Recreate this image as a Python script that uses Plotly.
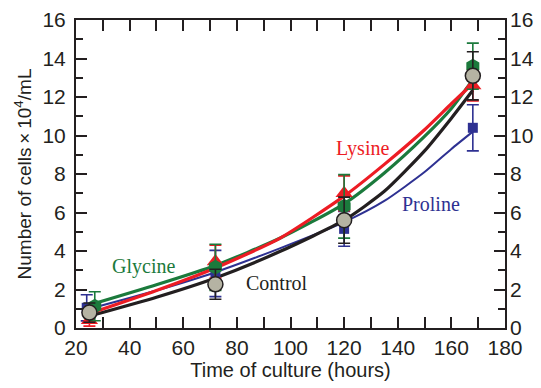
import plotly.graph_objects as go

# ---- measured data (mean, error) ----
t_control = [25, 72, 120, 168]
y_control = [0.8, 2.27, 5.6, 13.1]
e_control = [0.5, 0.78, 1.2, 1.25]

t_glycine = [27, 72, 120, 168]
y_glycine = [1.13, 3.15, 6.32, 13.6]
e_glycine = [0.75, 1.2, 1.65, 1.2]

t_lysine = [25, 72, 120, 168]
y_lysine = [0.4, 3.45, 7.0, 12.6]
e_lysine = [0.3, 0.85, 0.9, 0.8]

t_proline = [24, 72, 120, 168]
y_proline = [1.05, 2.83, 5.15, 10.4]
e_proline = [0.68, 1.2, 0.9, 1.2]

# ---- fitted curves ----
t_fit = [25, 50, 72, 96, 120, 135, 150, 160, 168]
fit_glycine = [1.2, 2.25, 3.25, 4.66, 6.45, 8.05, 9.95, 11.4, 12.9]
fit_lysine = [0.75, 1.95, 3.12, 4.66, 6.85, 8.5, 10.3, 11.65, 12.7]
fit_control = [0.62, 1.6, 2.6, 3.97, 5.6, 7.1, 9.2, 10.9, 12.35]
fit_proline = [1.0, 1.95, 2.9, 4.14, 5.5, 6.6, 8.1, 9.3, 10.2]

C_CONTROL = "#231f20"
C_GLY = "#1b7a3c"
C_LYS = "#ed1c24"
C_PRO = "#2e3192"

fig = go.Figure()

for yf, col, w in [
    (fit_proline, C_PRO, 2),
    (fit_control, C_CONTROL, 3.2),
    (fit_glycine, C_GLY, 3.2),
    (fit_lysine, C_LYS, 3.2),
]:
    fig.add_trace(go.Scatter(x=t_fit, y=yf, mode="lines",
                             line=dict(color=col, width=w, shape="spline", smoothing=0.6),
                             hoverinfo="skip", showlegend=False))

def pts(t, y, e, col, symbol, size, fill, lcol, lw):
    return go.Scatter(
        x=t, y=y, mode="markers",
        marker=dict(symbol=symbol, size=size, color=fill, line=dict(color=lcol, width=lw)),
        error_y=dict(type="data", array=e, visible=True, color=col, thickness=1.6, width=6),
        hoverinfo="skip", showlegend=False)

fig.add_trace(pts(t_proline, y_proline, e_proline, C_PRO, "square", 10, C_PRO, C_PRO, 0))
fig.add_trace(pts(t_lysine, y_lysine, e_lysine, C_LYS, "triangle-up", 15, C_LYS, C_LYS, 0))
fig.add_trace(pts(t_glycine, y_glycine, e_glycine, C_GLY, "hexagon", 15, C_GLY, C_GLY, 0))
fig.add_trace(pts(t_control, y_control, e_control, C_CONTROL, "circle", 15, "#b5b3a3", "#231f20", 1.5))

# right-hand labelled axis
fig.add_trace(go.Scatter(x=[None], y=[None], yaxis="y2", showlegend=False, hoverinfo="skip"))

labels = [
    ("Glycine", 45, 3.22, C_GLY),
    ("Control", 95, 2.32, "#231f20"),
    ("Lysine", 127, 9.35, C_LYS),
    ("Proline", 152.5, 6.45, C_PRO),
]
for txt, x, y, col in labels:
    fig.add_annotation(x=x, y=y, text=txt, showarrow=False,
                       font=dict(family="Liberation Serif, Times New Roman, serif", size=20, color=col))

tickfont = dict(family="Liberation Sans, Arial, sans-serif", size=21, color="#231f20")
xtitlefont = dict(family="Liberation Sans, Arial, sans-serif", size=20, color="#231f20")
ytitlefont = dict(family="Liberation Sans, Arial, sans-serif", size=19, color="#231f20")

fig.update_layout(
    width=541, height=388,
    margin=dict(l=76, r=36, t=20, b=60, autoexpand=False),
    plot_bgcolor="white", paper_bgcolor="white",
    xaxis=dict(range=[20, 180], dtick=20, tick0=20, ticks="inside", ticklen=11, tickwidth=2,
               tickcolor="#231f20", showline=True, linecolor="#231f20", linewidth=2,
               mirror="allticks", showgrid=False, zeroline=False, tickfont=tickfont,
               minor=dict(dtick=10, ticks="inside", ticklen=8, tickwidth=2, tickcolor="#231f20", showgrid=False),
               title=dict(text="Time of culture (hours)", font=xtitlefont, standoff=4)),
    yaxis=dict(range=[0, 16], dtick=2, ticks="inside", ticklen=11, tickwidth=2,
               tickcolor="#231f20", showline=True, linecolor="#231f20", linewidth=2,
               mirror="allticks", showgrid=False, zeroline=False, tickfont=tickfont,
               ticklabelstandoff=4,
               minor=dict(dtick=1, ticks="inside", ticklen=7, tickwidth=2, tickcolor="#231f20", showgrid=False),
               title=dict(text="Number of cells\u2009\u00d7\u200910<sup>4</sup>/mL", font=ytitlefont, standoff=6)),
    yaxis2=dict(range=[0, 16], dtick=2, overlaying="y", side="right", ticks="",
                ticklabelstandoff=4, showline=False, showgrid=False, zeroline=False,
                tickfont=tickfont),
)

fig.write_html("out.html", config={"displayModeBar": False, "staticPlot": True},
               post_script="document.body.style.margin='0';document.body.style.overflow='hidden';")
